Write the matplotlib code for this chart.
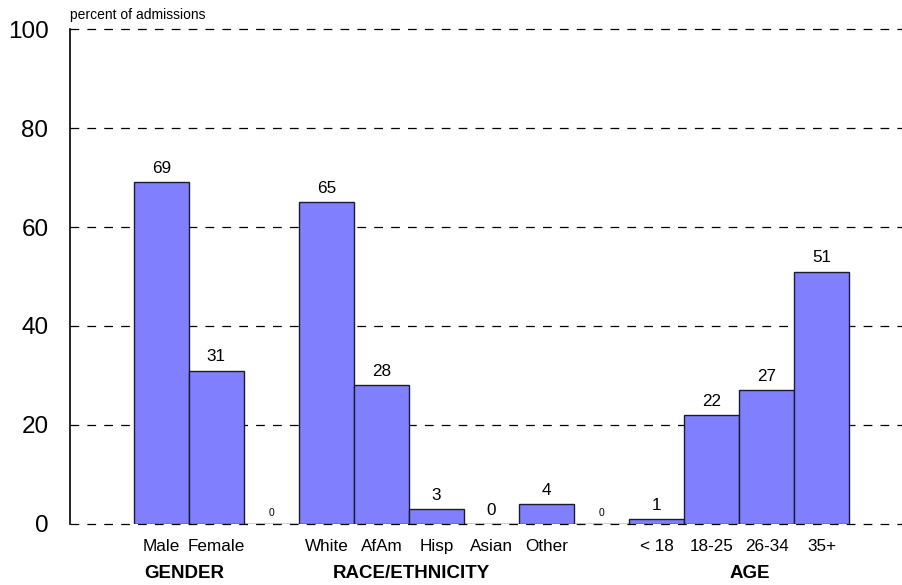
import matplotlib
matplotlib.use('Agg')
import matplotlib.pyplot as plt
import numpy as np

plt.rcParams['font.family'] = ['Liberation Sans', 'DejaVu Sans']

# bar categories ('' marks an empty spacer slot between groups)
labels = ['Male', 'Female', '', 'White', 'AfAm', 'Hisp', 'Asian', 'Other',
          '', '< 18', '18-25', '26-34', '35+']
values = [69, 31, 0, 65, 28, 3, 0, 4, 0, 1, 22, 27, 51]
groups = ['GENDER', 'RACE/ETHNICITY', 'AGE']
yticks = [0, 20, 40, 60, 80, 100]

fig = plt.figure(figsize=(9.03, 5.85), dpi=100)
ax = fig.add_axes([0.0775, 0.1043, 0.9225, 0.8461])

x = np.arange(1, len(values) + 1)
bar_vals = [v if lab else 0 for v, lab in zip(values, labels)]
bars = ax.bar(x, bar_vals, width=1.0, color='#8080ff', edgecolor='#1a1a33',
              linewidth=1.0, zorder=3)

for xi, v, lab in zip(x, values, labels):
    if lab:
        ax.annotate('{}'.format(v), xy=(xi, v), xytext=(0, 4.5),
                    textcoords='offset points', ha='center', va='bottom',
                    fontsize=12.3)
    else:
        ax.annotate('{}'.format(v), xy=(xi, v), xytext=(0, 4),
                    textcoords='offset points', ha='center', va='bottom',
                    fontsize=7.5)

ax.set_xlim(-0.66, 14.48)
ax.set_ylim(0, 100)
ax.set_yticks(yticks)
ax.set_yticklabels([str(t) for t in yticks], fontsize=17.5)
ax.tick_params(axis='y', length=0, pad=15.5)
ax.set_xticks(x)
ax.set_xticklabels(labels, fontsize=12.3)
ax.tick_params(axis='x', length=0, pad=11)

for t in yticks:
    ax.axhline(t, color='black', lw=0.9, linestyle=(0, (7, 6.5)), zorder=1,
               clip_on=False)

for s in ['top', 'right', 'bottom']:
    ax.spines[s].set_visible(False)
ax.spines['left'].set_linewidth(1.2)

# group titles under the category labels
group_x = [1.41, 5.55, 11.7]
for gx, g in zip(group_x, groups):
    ax.annotate(g, xy=(gx, 0), xycoords=('data', 'axes fraction'),
                xytext=(0, -35.5), textcoords='offset points', ha='center',
                va='center', fontsize=13.5, fontweight='bold')

ax.text(0, 1.014, 'percent of admissions', transform=ax.transAxes,
        fontsize=10, ha='left', va='bottom')

fig.savefig('out.png', dpi=100)
